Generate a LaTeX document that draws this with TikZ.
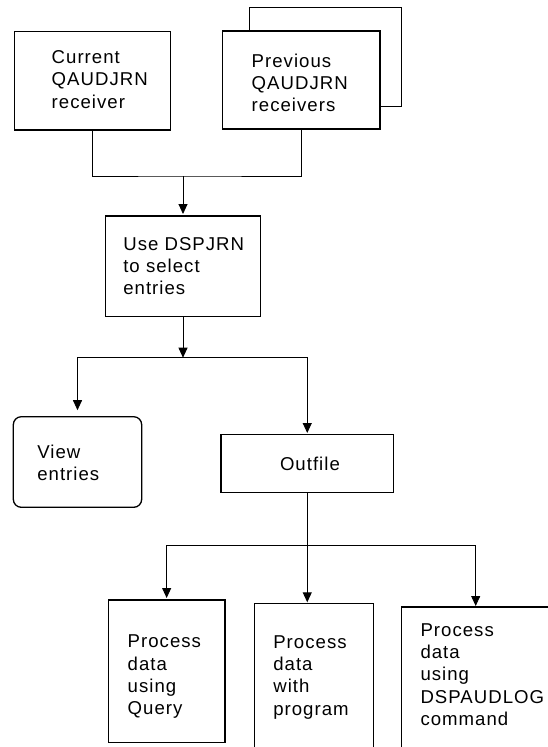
\documentclass[tikz,border=0pt]{standalone}
\usepackage{fontspec}
\setmainfont{Liberation Sans}[LetterSpace=5.5]
\usetikzlibrary{arrows.meta}

% lines of a label, first baseline is the node baseline
\newcommand\boxlines[1]{\begin{tabular}[t]{@{}l@{}}#1\end{tabular}}

\tikzset{
  box/.style={draw, line width=1.3pt, inner sep=0pt, outer sep=0pt, anchor=north west},
  boxline/.style={line width=1.3pt},
  txt/.style={anchor=base west, inner sep=0pt, outer sep=0pt,
              font=\fontsize{18.6}{22.4}\selectfont},
  link/.style={line width=0.9pt},
  flow/.style={link, -{Triangle[width=9pt,length=10pt]}},
}

\begin{document}
\begin{tikzpicture}[x=1pt, y=-1pt]
\useasboundingbox (0,0) rectangle (548,747);
\clip (0,0) rectangle (548,747);

% journal receivers
\node[box, minimum width=155.6pt, minimum height=98.5pt] (cur) at (14.7,31.5) {};
\node[box, minimum width=157.3pt, minimum height=98pt] (prev) at (222.7,31) {};
\draw[boxline] (249.3,31) |- (401.7,7.3) |- (380,106.7);
\node[txt] (tcur) at (51.7,63.3) {\boxlines{Current\\QAUDJRN\\receiver}};
\node[txt] (tprev) at (251.7,67) {\boxlines{Previous\\QAUDJRN\\receivers}};

% selection step
\node[box, minimum width=155.4pt, minimum height=100.7pt] (sel) at (105.3,216) {};
\node[txt] (tsel) at (123.3,250) {\boxlines{Use DSPJRN\\to select\\entries}};

% outputs of DSPJRN
\node[box, rounded corners=8pt, minimum width=128.4pt, minimum height=90.6pt] (view) at (13.3,416.7) {};
\node[txt] (tview) at (37.3,458.3) {\boxlines{View\\entries}};
\node[box, minimum width=172.5pt, minimum height=58pt] (out) at (221,434.5) {};
\node[txt] (tout) at (280,470.7) {Outfile};

% processing of the outfile
\node[box, minimum width=116.7pt, minimum height=142.7pt] (q) at (108.3,600) {};
\node[txt] (tq) at (127.7,647.7) {\boxlines{Process\\data\\using\\Query}};
\node[box, minimum width=119pt, minimum height=160pt] (p) at (254.3,603.3) {};
\node[txt] (tp) at (273.3,648) {\boxlines{Process\\data\\with\\program}};
\node[box, minimum width=148pt, minimum height=160pt] (d) at (401.7,607) {};
\node[txt] (td) at (420.5,636) {\boxlines{Process\\data\\using\\DSPAUDLOG\\command}};

% connectors
\coordinate (j1) at (183,176);
\coordinate (j2) at (183,357.7);
\coordinate (j3) at (307.25,545);
\draw[link] (cur.south) |- (j1) -| (prev.south);
\draw[flow, shorten >=2pt] (j1) -- (sel.north);
\draw[flow] (sel.south) -- (j2);
\draw[flow, shorten >=6.5pt] (j2) -| (view.north);
\draw[flow, shorten >=1.5pt] (j2) -| (out.north);
\draw[link] (out.south) -- (j3);
\draw[flow, shorten >=2pt] (j3) -| (q.north);
\draw[flow, shorten >=1pt] (j3) -- (j3 |- p.north);
\draw[flow, shorten >=1pt] (j3) -| (d.north);
\end{tikzpicture}
\end{document}
